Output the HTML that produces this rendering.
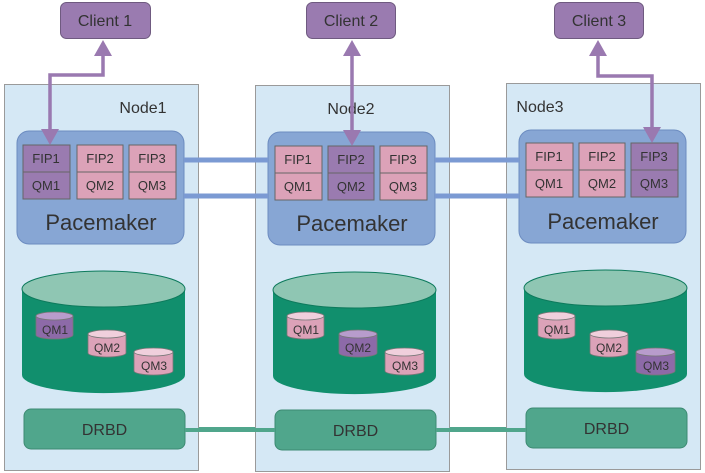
<!DOCTYPE html>
<html><head><style>body{margin:0;background:#fff}svg{display:block}text{font-family:"Liberation Sans",sans-serif;fill:#333}</style></head>
<body>
<svg width="705" height="473" viewBox="0 0 705 473" xmlns="http://www.w3.org/2000/svg">
<defs>
<g id="node">
  <rect x="4.5" y="84.5" width="194" height="386" fill="#d5e8f5" stroke="#9a9a9a"/>
  <rect x="17" y="131" width="167" height="113" rx="12" fill="#87a6d4" stroke="#6c8cc0"/>
  <text x="101" y="230" font-size="22" text-anchor="middle">Pacemaker</text>
  <path d="M22 289 V375 A81 18 0 0 0 185 375 V289" fill="#118f6d"/>
  <ellipse cx="103.5" cy="289" rx="81.5" ry="18" fill="#8fc6b3" stroke="#0d7a5c"/>
  <rect x="24" y="409" width="161" height="40" rx="7" fill="#50a68c" stroke="#3d8a72"/>
  <text x="104.5" y="435" font-size="16" text-anchor="middle">DRBD</text>
</g>
</defs>
<line x1="184" y1="160" x2="519" y2="160" stroke="#7b9ad3" stroke-width="5"/>
<line x1="184" y1="196" x2="519" y2="196" stroke="#7b9ad3" stroke-width="5"/>
<line x1="185" y1="429" x2="526" y2="429" stroke="#50a68c" stroke-width="4"/>
<use href="#node"/>
<use href="#node" transform="translate(251,1)"/>
<use href="#node" transform="translate(502,-1)"/>
<line x1="184" y1="160" x2="268" y2="160" stroke="#7b9ad3" stroke-width="5"/>
<line x1="184" y1="196" x2="268" y2="196" stroke="#7b9ad3" stroke-width="5"/>
<line x1="435" y1="160" x2="519" y2="160" stroke="#7b9ad3" stroke-width="5"/>
<line x1="435" y1="196" x2="519" y2="196" stroke="#7b9ad3" stroke-width="5"/>
<line x1="185" y1="430" x2="275" y2="430" stroke="#50a68c" stroke-width="4"/>
<line x1="436" y1="430" x2="526" y2="430" stroke="#50a68c" stroke-width="4"/>
<text x="143" y="113" font-size="16" text-anchor="middle">Node1</text>
<text x="351" y="114" font-size="16" text-anchor="middle">Node2</text>
<text x="540" y="112" font-size="16" text-anchor="middle">Node3</text>
<g stroke="#666" stroke-width="1">
<rect x="23" y="145" width="47" height="27" fill="#9a7bb0"/><rect x="23" y="172" width="47" height="27" fill="#9a7bb0"/>
<rect x="77" y="145" width="46" height="27" fill="#dca2b8"/><rect x="77" y="172" width="46" height="27" fill="#dca2b8"/>
<rect x="129" y="145" width="47" height="27" fill="#dca2b8"/><rect x="129" y="172" width="47" height="27" fill="#dca2b8"/>
<rect x="275" y="146" width="47" height="27" fill="#dca2b8"/><rect x="275" y="173" width="47" height="27" fill="#dca2b8"/>
<rect x="328" y="146" width="46" height="27" fill="#9a7bb0"/><rect x="328" y="173" width="46" height="27" fill="#9a7bb0"/>
<rect x="380" y="146" width="47" height="27" fill="#dca2b8"/><rect x="380" y="173" width="47" height="27" fill="#dca2b8"/>
<rect x="526" y="143" width="47" height="27" fill="#dca2b8"/><rect x="526" y="170" width="47" height="27" fill="#dca2b8"/>
<rect x="579" y="143" width="46" height="27" fill="#dca2b8"/><rect x="579" y="170" width="46" height="27" fill="#dca2b8"/>
<rect x="631" y="143" width="47" height="27" fill="#9a7bb0"/><rect x="631" y="170" width="47" height="27" fill="#9a7bb0"/>
</g>
<g font-size="13" text-anchor="middle">
<text x="46" y="163">FIP1</text><text x="46" y="190">QM1</text>
<text x="100" y="163">FIP2</text><text x="100" y="190">QM2</text>
<text x="152" y="163">FIP3</text><text x="152" y="190">QM3</text>
<text x="298" y="164">FIP1</text><text x="298" y="191">QM1</text>
<text x="351" y="164">FIP2</text><text x="351" y="191">QM2</text>
<text x="403" y="164">FIP3</text><text x="403" y="191">QM3</text>
<text x="549" y="161">FIP1</text><text x="549" y="188">QM1</text>
<text x="602" y="161">FIP2</text><text x="602" y="188">QM2</text>
<text x="654" y="161">FIP3</text><text x="654" y="188">QM3</text>
</g>
<g stroke="#777" stroke-width="0.8">
<path d="M36 316 V335 A18.5 4 0 0 0 73 335 V316" fill="#8d6aa8"/><ellipse cx="54.5" cy="316" rx="18.5" ry="4" fill="#b89ccc"/>
<path d="M88 334 V353 A19 4 0 0 0 126 353 V334" fill="#dca2b8"/><ellipse cx="107" cy="334" rx="19" ry="4" fill="#f0cfdc"/>
<path d="M134 352 V371 A19.5 4 0 0 0 173 371 V352" fill="#dca2b8"/><ellipse cx="153.5" cy="352" rx="19.5" ry="4" fill="#f0cfdc"/>
<path d="M287 316 V335 A18.5 4 0 0 0 324 335 V316" fill="#dca2b8"/><ellipse cx="305.5" cy="316" rx="18.5" ry="4" fill="#f0cfdc"/>
<path d="M339 334 V353 A19 4 0 0 0 377 353 V334" fill="#8d6aa8"/><ellipse cx="358" cy="334" rx="19" ry="4" fill="#b89ccc"/>
<path d="M385 352 V371 A19.5 4 0 0 0 424 371 V352" fill="#dca2b8"/><ellipse cx="404.5" cy="352" rx="19.5" ry="4" fill="#f0cfdc"/>
<path d="M538 316 V335 A18.5 4 0 0 0 575 335 V316" fill="#dca2b8"/><ellipse cx="556.5" cy="316" rx="18.5" ry="4" fill="#f0cfdc"/>
<path d="M590 334 V353 A19 4 0 0 0 628 353 V334" fill="#dca2b8"/><ellipse cx="609" cy="334" rx="19" ry="4" fill="#f0cfdc"/>
<path d="M636 352 V371 A19.5 4 0 0 0 675 371 V352" fill="#8d6aa8"/><ellipse cx="655.5" cy="352" rx="19.5" ry="4" fill="#b89ccc"/>
</g>
<g font-size="12" text-anchor="middle">
<text x="55" y="334">QM1</text><text x="107" y="352">QM2</text><text x="154" y="370">QM3</text>
<text x="306" y="334">QM1</text><text x="358" y="352">QM2</text><text x="405" y="370">QM3</text>
<text x="557" y="334">QM1</text><text x="609" y="352">QM2</text><text x="656" y="370">QM3</text>
</g>
<g stroke="#6f5a80" stroke-width="1">
<rect x="60.5" y="2.5" width="90" height="36" rx="6" fill="#9a7bb0"/>
<rect x="306.5" y="2.5" width="89" height="36" rx="6" fill="#9a7bb0"/>
<rect x="554.5" y="2.5" width="89" height="36" rx="6" fill="#9a7bb0"/>
</g>
<g font-size="16" text-anchor="middle">
<text x="105" y="26">Client 1</text><text x="351" y="26">Client 2</text><text x="599" y="26">Client 3</text>
</g>
<g stroke="#9a79b0" stroke-width="3.5" fill="none">
<path d="M103 54 V75 H50 V132"/>
<path d="M352 54 V132"/>
<path d="M598 54 V76 H652 V130"/>
</g>
<g fill="#9a79b0">
<polygon points="103,40 94,56 112,56"/><polygon points="50,145 41,129 59,129"/>
<polygon points="352,40 343,56 361,56"/><polygon points="352,146 343,130 361,130"/>
<polygon points="598,40 589,56 607,56"/><polygon points="652,143 643,127 661,127"/>
</g>
</svg>
</body></html>
